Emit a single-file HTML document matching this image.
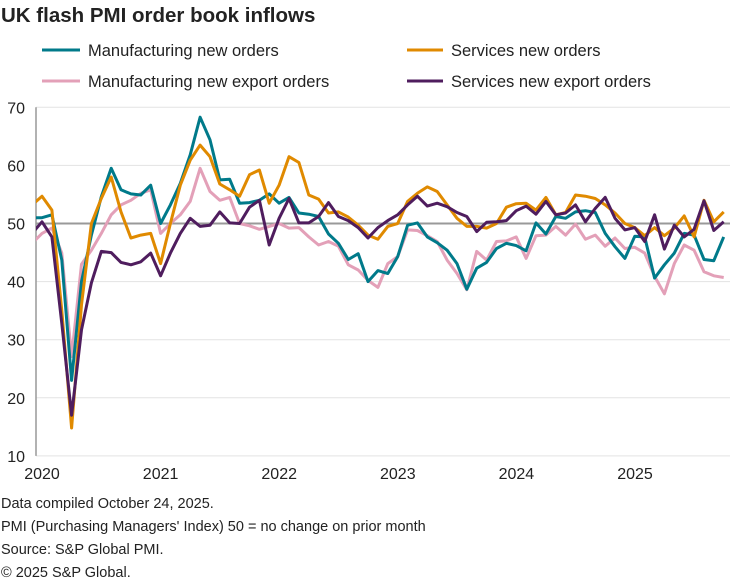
<!DOCTYPE html>
<html><head><meta charset="utf-8"><style>
body{margin:0;background:#fff;}
svg text{font-family:"Liberation Sans",Arial,sans-serif;fill:#222;}
</style></head><body>
<svg id="c" width="730" height="581" xmlns="http://www.w3.org/2000/svg">
<text x="1" y="22" font-size="20.5" font-weight="bold">UK flash PMI order book inflows</text>
<line x1="42" y1="50" x2="80" y2="50" stroke="#007a8a" stroke-width="3"/>
<text x="88" y="56" font-size="16.5">Manufacturing new orders</text>
<line x1="407" y1="50" x2="443" y2="50" stroke="#e08a00" stroke-width="3"/>
<text x="451" y="56" font-size="16.5">Services new orders</text>
<line x1="42" y1="81" x2="80" y2="81" stroke="#e3a0b8" stroke-width="3"/>
<text x="88" y="87" font-size="16.5">Manufacturing new export orders</text>
<line x1="407" y1="81" x2="443" y2="81" stroke="#4f1d5e" stroke-width="3"/>
<text x="451" y="87" font-size="16.5">Services new export orders</text>
<g id="grid"></g>
<defs><clipPath id="cp"><rect x="36" y="90" width="694" height="380"/></clipPath></defs>
<g id="lines" clip-path="url(#cp)"></g>
<text x="1" y="508" font-size="14.5">Data compiled October 24, 2025.</text>
<text x="1" y="531" font-size="14.5">PMI (Purchasing Managers' Index) 50 = no change on prior month</text>
<text x="1" y="554" font-size="14.5">Source: S&amp;P Global PMI.</text>
<text x="1" y="577" font-size="14.5">© 2025 S&amp;P Global.</text>
</svg>
<script>
var NS="http://www.w3.org/2000/svg";
function Y(v){return 107.3+(70-v)*5.81;}
function X(i){return 42+9.88*i;}
var g=document.getElementById('grid'),L=document.getElementById('lines');
function el(p,t,a){var e=document.createElementNS(NS,t);for(var k in a)e.setAttribute(k,a[k]);p.appendChild(e);return e;}
[10,20,30,40,60,70].forEach(function(v){el(g,'line',{x1:36,x2:730,y1:Y(v),y2:Y(v),stroke:'#e3e3e3','stroke-width':1});});
[10,20,30,40,50,60,70].forEach(function(v){var t=el(g,'text',{x:25,y:Y(v)+6,'font-size':16,'text-anchor':'end'});t.textContent=v;});
el(g,'line',{x1:36,x2:36,y1:Y(70),y2:Y(10),stroke:'#999','stroke-width':1.5});
['2020','2021','2022','2023','2024','2025'].forEach(function(s,k){var t=el(g,'text',{x:42+118.6*k,y:479,'font-size':16,'text-anchor':'middle'});t.textContent=s;});
var teal=[51,51,51.5,43.7,23,40,48,54.6,59.5,55.8,55.1,54.9,56.6,50,53.2,56.9,61.8,68.3,64.4,57.5,57.6,53.5,53.6,54,55.1,53.5,54.5,51.8,51.6,51.2,48.2,46.6,43.8,44.8,40,41.9,41.4,44.3,49.7,50.1,47.7,46.7,45.4,43.1,38.7,42.3,43.3,45.7,46.6,46.2,45.3,50.1,48.2,51.2,50.9,52,52.2,51.9,48.3,46,44,47.8,47.7,40.6,42.9,44.9,48.3,48,43.8,43.6,47.7];
var orange=[53.2,54.7,52.3,35,14.8,36,50,54.3,58,52,47.5,48,48.3,43.1,50,56.6,60.9,63.5,61.5,56.8,55.8,54.7,58.4,59.2,53.5,56.6,61.5,60.5,54.9,54.2,51.8,52,51.1,49.7,48,47.3,49.5,50,53.8,55.2,56.3,55.5,53.2,50.9,49.5,49.5,49.2,50,52.8,53.4,53.5,52.3,54.5,51.5,51.9,54.9,54.7,54.3,53.2,51.8,50,49.3,47.9,49.3,47.9,49.2,51.3,47.7,54,50.3,52];
var pink=[46.6,48.3,49.2,44.9,27.1,43,45.4,48.3,51.5,53.2,54,55.2,55.8,48.3,50,51.5,53.8,59.5,55.5,54,54.5,50,49.6,49,49.5,50,49.2,49.3,47.7,46.3,46.9,46.1,42.9,42,40.2,39,43.1,44.3,48.9,48.8,47.9,46.9,43.7,41.4,38.6,45.2,43.7,46.9,47,47.7,44,47.9,48,49.5,48,49.9,47.3,48,46.1,47.5,45.7,45.9,44.9,40.9,37.9,43.1,46.3,45.4,41.7,41,40.7];
var purple=[48.3,50.3,47.7,32.8,17,31.7,39.8,45.2,45,43.3,42.9,43.4,44.9,41,44.9,48.3,50.9,49.5,49.7,52,50.1,50,52.8,54,46.3,50.9,54.3,50.1,50.1,51.2,53.6,51.2,50.5,49.3,47.5,49.3,50.5,51.5,53.2,54.7,53,53.5,52.9,51.9,51.2,48.6,50.2,50.3,50.5,52.2,53,51.6,53.8,51.5,51.8,53.2,50.3,52.6,54.5,50.9,48.9,49.3,46.9,51.5,45.6,49.7,47.7,49,53.9,48.8,50.3];
function draw(d,c){var p=d.map(function(v,i){return X(i-1).toFixed(1)+','+Y(v).toFixed(1);}).join(' ');
el(L,'polyline',{points:p,fill:'none',stroke:c,'stroke-width':3,'stroke-linejoin':'round'});}
el(L,'line',{x1:36,x2:730,y1:Y(50),y2:Y(50),stroke:'#999','stroke-width':2});
draw(pink,'#e3a0b8');draw(teal,'#007a8a');draw(orange,'#e08a00');draw(purple,'#4f1d5e');
</script>
</body></html>
